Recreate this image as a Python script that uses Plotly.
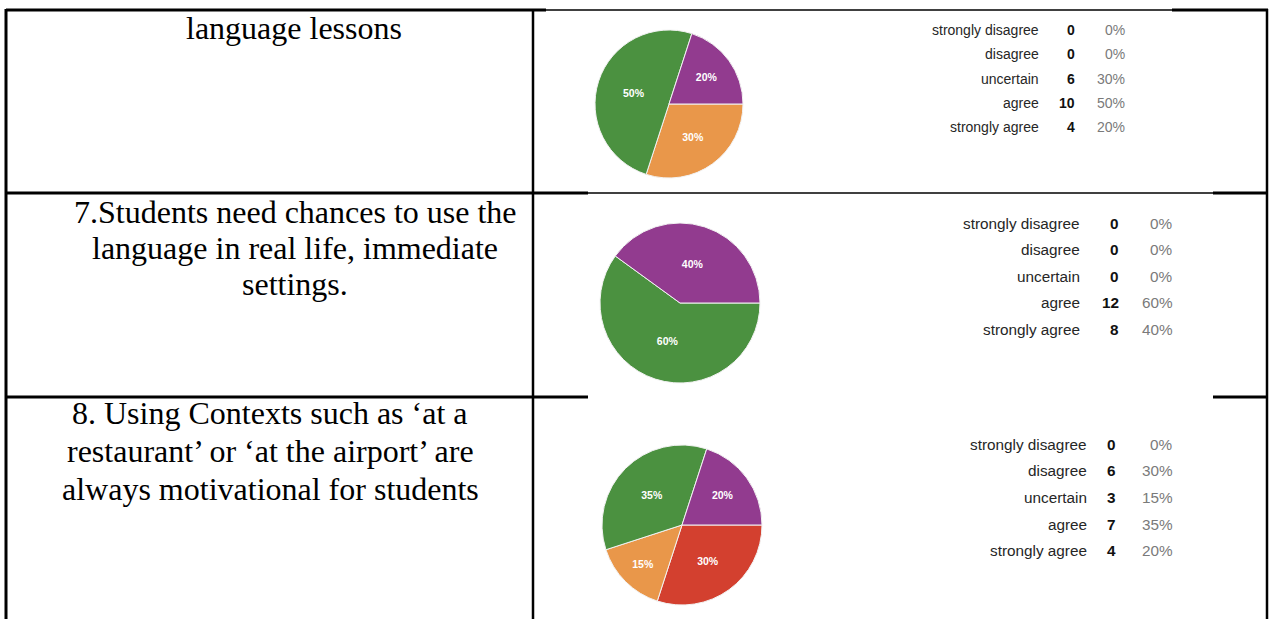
import plotly.graph_objects as go

W, H = 1269, 619

# ---------------- data ----------------
categories = ["strongly disagree", "disagree", "uncertain", "agree", "strongly agree"]
q6_counts = [0, 0, 6, 10, 4]
q7_counts = [0, 0, 0, 12, 8]
q8_counts = [0, 6, 3, 7, 4]

q6_text = ["language lessons"]
q7_text = ["7.Students need chances to use the",
           "language in real life, immediate",
           "settings."]
q8_text = ["8. Using Contexts such as \u2018at a",
           "restaurant\u2019 or \u2018at the airport\u2019 are",
           "always motivational for students"]

category_colors = ["#3366cc", "#d3402f", "#e9974a", "#4b9140", "#923b8f"]

# ---------------- layout (pixel positions) ----------------
rows = [
    dict(counts=q6_counts, text=q6_text, text_x=294, text_y0=28, text_dy=36,
         pie_c=(669, 104), pie_r=74,
         list_y0=30, list_dy=24.3, lab_x=1041, cnt_x=1077, pct_x=1127, fsize=14),
    dict(counts=q7_counts, text=q7_text, text_x=295, text_y0=212, text_dy=36,
         pie_c=(680, 303), pie_r=80,
         list_y0=223, list_dy=26.5, lab_x=1082, cnt_x=1121, pct_x=1175, fsize=15.3),
    dict(counts=q8_counts, text=q8_text, text_x=270, text_y0=413, text_dy=38,
         pie_c=(682, 525), pie_r=80,
         list_y0=444, list_dy=26.7, lab_x=1089, cnt_x=1118, pct_x=1175, fsize=15.3),
]

fig = go.Figure()
annotations = []

for row in rows:
    counts = row["counts"]
    total = sum(counts)
    idx = [i for i, c in enumerate(counts) if c > 0]
    cx, cy = row["pie_c"]
    r = row["pie_r"]
    fig.add_trace(go.Pie(
        labels=[categories[i] for i in idx],
        values=[counts[i] for i in idx],
        marker=dict(colors=[category_colors[i] for i in idx],
                    line=dict(color="#f2f2f2", width=1)),
        sort=False,
        direction="clockwise",
        rotation=90,
        textinfo="percent",
        texttemplate="%{percent:.0%}",
        textposition="inside",
        insidetextorientation="horizontal",
        textfont=dict(family="Liberation Sans, Arial", size=10.5, color="white", weight="bold"),
        domain=dict(x=[(cx - r) / W, (cx + r) / W],
                    y=[1 - (cy + r) / H, 1 - (cy - r) / H]),
        showlegend=False,
        hoverinfo="label+value+percent",
    ))

    # question text
    for k, line in enumerate(row["text"]):
        annotations.append(dict(
            x=row["text_x"], y=row["text_y0"] + k * row["text_dy"],
            xref="x", yref="y", text=line, showarrow=False,
            xanchor="center", yanchor="middle",
            font=dict(family="Liberation Serif, Times New Roman", size=32, color="#000000"),
        ))

    # response list
    for i, cat in enumerate(categories):
        y = row["list_y0"] + i * row["list_dy"]
        pct = round(100 * counts[i] / total)
        annotations.append(dict(x=row["lab_x"], y=y, xref="x", yref="y", text=cat,
                                showarrow=False, xanchor="right", yanchor="middle",
                                font=dict(family="Liberation Sans, Arial", size=row["fsize"], color="#262626")))
        annotations.append(dict(x=row["cnt_x"], y=y, xref="x", yref="y", text=f"<b>{counts[i]}</b>",
                                showarrow=False, xanchor="right", yanchor="middle",
                                font=dict(family="Liberation Sans, Arial", size=row["fsize"], color="#111111")))
        annotations.append(dict(x=row["pct_x"], y=y, xref="x", yref="y", text=f"{pct}%",
                                showarrow=False, xanchor="right", yanchor="middle",
                                font=dict(family="Liberation Sans, Arial", size=row["fsize"], color="#7a7a7a")))

# ---------------- table lines ----------------
THICK, THIN = 3, 1.6
segments = [
    # top border
    (6, 10, 546, 10, THICK), (546, 10, 1172, 10, THIN), (1172, 10, 1268, 10, THICK),
    # row separators
    (6, 193, 588, 193, THICK), (588, 193, 1213, 193, THIN), (1213, 193, 1268, 193, THICK),
    (6, 397, 588, 397, THICK), (1213, 397, 1268, 397, THICK),
    # verticals
    (6, 9, 6, H, THICK), (533, 10, 533, H, 2.5), (1267, 9, 1267, H, 2.5),
]
shapes = [dict(type="line", xref="x", yref="y", x0=a, y0=b, x1=c, y1=d,
               line=dict(color="black", width=w), layer="below")
          for a, b, c, d, w in segments]

fig.update_layout(
    width=W, height=H,
    margin=dict(l=0, r=0, t=0, b=0, pad=0),
    paper_bgcolor="white", plot_bgcolor="white",
    xaxis=dict(range=[0, W], visible=False, fixedrange=True),
    yaxis=dict(range=[H, 0], visible=False, fixedrange=True),
    shapes=shapes,
    annotations=annotations,
    showlegend=False,
)

fig.write_html("out.html", config={"displayModeBar": False},
               post_script="document.body.style.margin='0';document.body.style.overflow='hidden';")
